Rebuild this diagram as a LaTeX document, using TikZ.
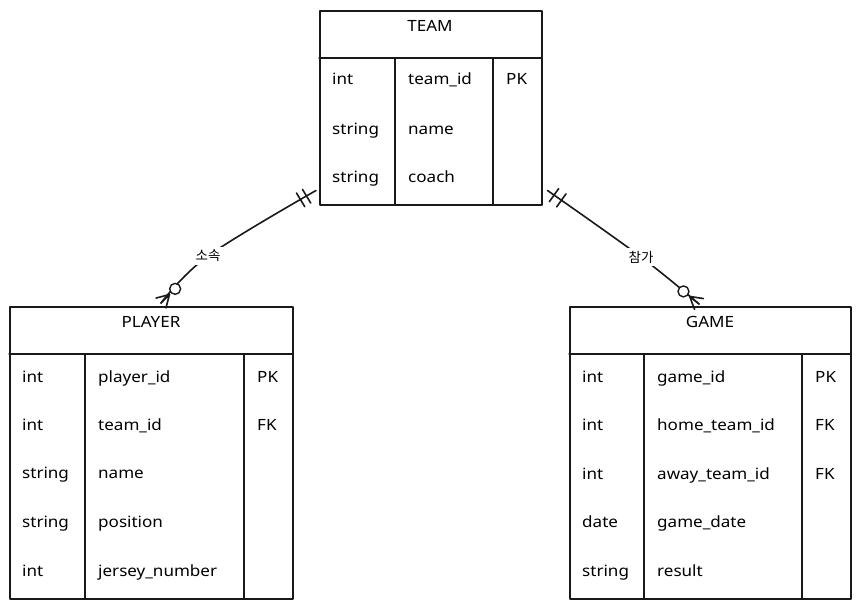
\documentclass[tikz,border=0pt]{standalone}
\usepackage{fontspec}
\setmainfont{Noto Sans}[FakeStretch=1.1]
\newfontfamily\kr{Noto Sans CJK KR}
\usetikzlibrary{calc}
\begin{document}
\begin{tikzpicture}[x=1pt,y=-1pt,line join=round,line cap=round,
  box/.style={draw=black!90, line width=1.5pt, fill=white, inner sep=0pt, anchor=north west},
  grid/.style={draw=black!90, line width=1.1pt},
  cell/.style={anchor=base west, inner sep=0pt, text=black, font=\fontsize{15.5}{18}\selectfont},
  head/.style={anchor=base, inner sep=0pt, text=black, font=\fontsize{15.5}{18}\selectfont},
  rel/.style={draw=black!90, line width=1.6pt},
  ring/.style={circle, draw=black!90, fill=white, line width=1.4pt, minimum size=11pt, inner sep=0pt},
  lbl/.style={fill=white, inner sep=3pt, text=black, font=\kr\fontsize{13.5}{15}\selectfont}]
\useasboundingbox (0,0) rectangle (860,608);

% ---------- TEAM ----------
\node[box, minimum width=222pt, minimum height=194pt] (team) at (319,10) {};
\draw[grid] (319,58) -- (541,58) (395,58) -- (395,204) (493,58) -- (493,204);
\node[head] (teamh) at (430,31) {TEAM};
\node[cell] (tm1a) at (332,84) {int};
\node[cell] (tm1b) at (408,84) {team\_id};
\node[cell] (tm1c) at (506,84) {PK};
\node[cell] (tm2a) at (332,134) {string};
\node[cell] (tm2b) at (408,134) {name};
\node[cell] (tm3a) at (332,182) {string};
\node[cell] (tm3b) at (408,182) {coach};

% ---------- PLAYER ----------
\node[box, minimum width=283pt, minimum height=292pt] (player) at (9,306) {};
\draw[grid] (9,354) -- (292,354) (85,354) -- (85,598) (244,354) -- (244,598);
\node[head] (playerh) at (151,327) {PLAYER};
\node[cell] (pl1a) at (22,382) {int};
\node[cell] (pl1b) at (98,382) {player\_id};
\node[cell] (pl1c) at (257,382) {PK};
\node[cell] (pl2a) at (22,430) {int};
\node[cell] (pl2b) at (98,430) {team\_id};
\node[cell] (pl2c) at (257,430) {FK};
\node[cell] (pl3a) at (22,478) {string};
\node[cell] (pl3b) at (98,478) {name};
\node[cell] (pl4a) at (22,527) {string};
\node[cell] (pl4b) at (98,527) {position};
\node[cell] (pl5a) at (22,576) {int};
\node[cell] (pl5b) at (98,576) {jersey\_number};

% ---------- GAME ----------
\node[box, minimum width=281pt, minimum height=292pt] (game) at (569,306) {};
\draw[grid] (569,354) -- (850,354) (644,354) -- (644,598) (802,354) -- (802,598);
\node[head] (gameh) at (710,327) {GAME};
\node[cell] (gm1a) at (582,382) {int};
\node[cell] (gm1b) at (657,382) {game\_id};
\node[cell] (gm1c) at (815,382) {PK};
\node[cell] (gm2a) at (582,430) {int};
\node[cell] (gm2b) at (657,430) {home\_team\_id};
\node[cell] (gm2c) at (815,430) {FK};
\node[cell] (gm3a) at (582,479) {int};
\node[cell] (gm3b) at (657,479) {away\_team\_id};
\node[cell] (gm3c) at (815,479) {FK};
\node[cell] (gm4a) at (582,527) {date};
\node[cell] (gm4b) at (657,527) {game\_date};
\node[cell] (gm5a) at (582,576) {string};
\node[cell] (gm5b) at (657,576) {result};

% ---------- TEAM -- PLAYER ----------
\coordinate (t1) at ($(team.south west)+(-3,-15)$);
\coordinate (l1) at (208,256);
\coordinate (p1) at ($(player.north west)+(152,-3)$);
\draw[rel] plot[smooth, tension=0.6] coordinates {(t1) (l1) (p1)};
\coordinate (b1a) at ($(t1)!11pt!(l1)$);
\coordinate (b1b) at ($(t1)!18pt!(l1)$);
\draw[rel] ($(b1a)!8pt!90:(l1)$) -- ($(b1a)!8pt!-90:(l1)$);
\draw[rel] ($(b1b)!8pt!90:(l1)$) -- ($(b1b)!8pt!-90:(l1)$);
\coordinate (f1) at ($(p1)!12pt!(l1)$);
\draw[rel] (f1) -- ($(p1)!7pt!90:(l1)$) (f1) -- ($(p1)!7pt!-90:(l1)$) (f1) -- (p1);
\node[ring] (r1) at ($(p1)!20pt!(l1)$) {};
\node[lbl] (lab1) at (l1) {소속};

% ---------- TEAM -- GAME ----------
\coordinate (t2) at ($(team.south east)+(5,-15)$);
\coordinate (l2) at (641,257);
\coordinate (p2) at ($(game.north west)+(130,-2)$);
\draw[rel] plot[smooth, tension=0.6] coordinates {(t2) (l2) (p2)};
\coordinate (b2a) at ($(t2)!8pt!(l2)$);
\coordinate (b2b) at ($(t2)!17pt!(l2)$);
\draw[rel] ($(b2a)!8pt!90:(l2)$) -- ($(b2a)!8pt!-90:(l2)$);
\draw[rel] ($(b2b)!8pt!90:(l2)$) -- ($(b2b)!8pt!-90:(l2)$);
\coordinate (f2) at ($(p2)!12pt!(l2)$);
\draw[rel] (f2) -- ($(p2)!7pt!90:(l2)$) (f2) -- ($(p2)!7pt!-90:(l2)$) (f2) -- (p2);
\node[ring] (r2) at ($(p2)!20pt!(l2)$) {};
\node[lbl] (lab2) at (l2) {참가};
\end{tikzpicture}
\end{document}
